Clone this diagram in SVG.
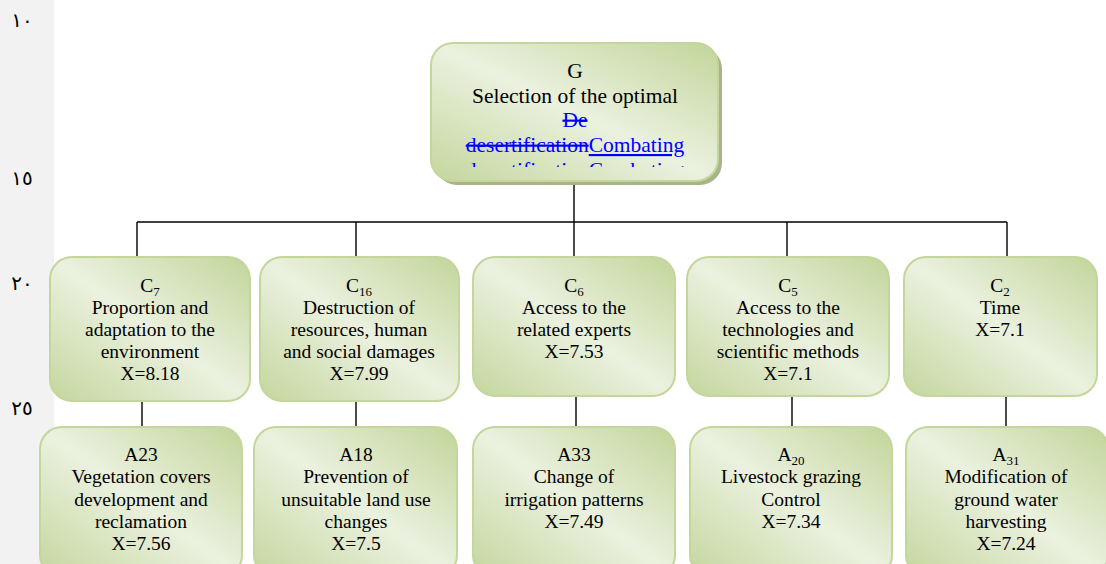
<svg xmlns="http://www.w3.org/2000/svg" width="1106" height="564" viewBox="0 0 1106 564">
<style>
.box{stroke:#c3d69b;stroke-width:2;fill:url(#gr)}
.t{font-family:'Liberation Serif','DejaVu Serif',serif;font-size:19.5px;fill:#000;text-anchor:middle}
.g{font-size:21.5px}
.sub{font-size:13px}
.ln{stroke:#000;stroke-width:1.4;fill:none}
.num{font-family:'DejaVu Sans',sans-serif;font-size:20px;fill:#000;text-anchor:middle}
.blue{fill:#0000ff}
</style>
<defs>
<linearGradient id="gr" x1="1" y1="0" x2="0" y2="1">
<stop offset="0" stop-color="#c2d59a"/>
<stop offset="0.5" stop-color="#ebf1df"/>
<stop offset="1" stop-color="#c4d69d"/>
</linearGradient>
<clipPath id="gclip"><rect x="431" y="43" width="288" height="124"/></clipPath>
</defs>
<rect x="0" y="0" width="54" height="564" fill="#f2f2f2"/>
<text class="num" x="22" y="27">١٠</text>
<text class="num" x="22" y="185">١٥</text>
<text class="num" x="22" y="290">٢٠</text>
<text class="num" x="22" y="415">٢٥</text>
<g id="connectors">
<path class="ln" d="M574,183V222M137,222H1007M137,222V257M356,222V257M574,222V257M787,222V257M1007,222V257"/>
<path class="ln" d="M142,401V427M356,401V427M576,396V427M792,396V427M1006,396V427"/>
</g>
<g font-family="Liberation Serif, serif">
<g id="G">
<rect x="435" y="47" width="287" height="138" rx="22" fill="#a7b487"/>
<rect class="box" x="431" y="43" width="287" height="138" rx="22"/>
<text class="t g" x="575" y="78">G</text>
<text class="t g" x="575" y="103">Selection of the optimal</text>
<text class="t g blue" x="575" y="127" text-decoration="line-through">De </text>
<text class="t g blue" x="575" y="152"><tspan text-decoration="line-through">desertification</tspan><tspan text-decoration="underline">Combating</tspan></text>
<g clip-path="url(#gclip)"><text class="t g blue" x="575" y="177"><tspan text-decoration="line-through">desertification</tspan><tspan text-decoration="underline">Combating</tspan></text></g>
</g>
<g id="C7">
<rect class="box" x="50" y="257" width="200" height="144" rx="22"/>
<text class="t" x="150" y="292">C<tspan class="sub" dy="4">7</tspan></text>
<text class="t" x="150" y="314">Proportion and</text>
<text class="t" x="150" y="336">adaptation to the</text>
<text class="t" x="150" y="358">environment</text>
<text class="t" x="150" y="380">X=8.18</text>
</g>
<g id="C16">
<rect class="box" x="260" y="257" width="199" height="144" rx="22"/>
<text class="t" x="359" y="292">C<tspan class="sub" dy="4">16</tspan></text>
<text class="t" x="359" y="314">Destruction of</text>
<text class="t" x="359" y="336">resources, human</text>
<text class="t" x="359" y="358">and social damages</text>
<text class="t" x="359" y="380">X=7.99</text>
</g>
<g id="C6">
<rect class="box" x="473" y="257" width="202" height="139" rx="22"/>
<text class="t" x="574" y="292">C<tspan class="sub" dy="4">6</tspan></text>
<text class="t" x="574" y="314">Access to the</text>
<text class="t" x="574" y="336">related experts</text>
<text class="t" x="574" y="358">X=7.53</text>
</g>
<g id="C5">
<rect class="box" x="687" y="257" width="202" height="139" rx="22"/>
<text class="t" x="788" y="292">C<tspan class="sub" dy="4">5</tspan></text>
<text class="t" x="788" y="314">Access to the</text>
<text class="t" x="788" y="336">technologies and</text>
<text class="t" x="788" y="358">scientific methods</text>
<text class="t" x="788" y="380">X=7.1</text>
</g>
<g id="C2">
<rect class="box" x="904" y="257" width="193" height="139" rx="22"/>
<text class="t" x="1000" y="292">C<tspan class="sub" dy="4">2</tspan></text>
<text class="t" x="1000" y="314">Time</text>
<text class="t" x="1000" y="336">X=7.1</text>
</g>
<g id="A23">
<rect class="box" x="40" y="427" width="202" height="150" rx="22"/>
<text class="t" x="141" y="461">A23</text>
<text class="t" x="141" y="483">Vegetation covers</text>
<text class="t" x="141" y="506">development and</text>
<text class="t" x="141" y="528">reclamation</text>
<text class="t" x="141" y="550">X=7.56</text>
</g>
<g id="A18">
<rect class="box" x="254" y="427" width="203" height="150" rx="22"/>
<text class="t" x="356" y="461">A18</text>
<text class="t" x="356" y="483">Prevention of</text>
<text class="t" x="356" y="506">unsuitable land use</text>
<text class="t" x="356" y="528">changes</text>
<text class="t" x="356" y="550">X=7.5</text>
</g>
<g id="A33">
<rect class="box" x="473" y="427" width="202" height="150" rx="22"/>
<text class="t" x="574" y="461">A33</text>
<text class="t" x="574" y="483">Change of</text>
<text class="t" x="574" y="506">irrigation patterns</text>
<text class="t" x="574" y="528">X=7.49</text>
</g>
<g id="A20">
<rect class="box" x="690" y="427" width="202" height="150" rx="22"/>
<text class="t" x="791" y="461">A<tspan class="sub" dy="4">20</tspan></text>
<text class="t" x="791" y="483">Livestock grazing</text>
<text class="t" x="791" y="506">Control</text>
<text class="t" x="791" y="528">X=7.34</text>
</g>
<g id="A31">
<rect class="box" x="906" y="427" width="202" height="150" rx="22"/>
<text class="t" x="1006" y="461">A<tspan class="sub" dy="4">31</tspan></text>
<text class="t" x="1006" y="483">Modification of</text>
<text class="t" x="1006" y="506">ground water</text>
<text class="t" x="1006" y="528">harvesting</text>
<text class="t" x="1006" y="550">X=7.24</text>
</g>
</g>
</svg>
